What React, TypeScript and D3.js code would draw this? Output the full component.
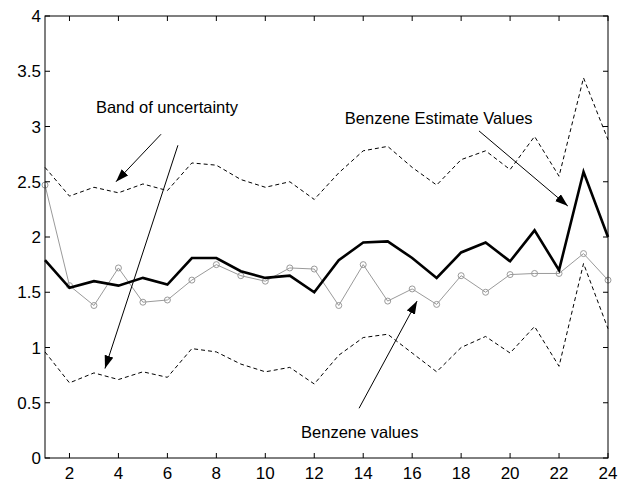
import React from "react";
import * as d3 from "d3";

// sample index 1..24
const hours = d3.range(1, 25);

const estimate = [1.79, 1.54, 1.60, 1.56, 1.63, 1.57, 1.81, 1.81, 1.69, 1.63, 1.65, 1.50,
  1.79, 1.95, 1.96, 1.81, 1.63, 1.86, 1.95, 1.78, 2.06, 1.70, 2.59, 2.00];
const measured = [2.47, 1.56, 1.38, 1.72, 1.41, 1.43, 1.61, 1.75, 1.65, 1.60, 1.72, 1.71,
  1.38, 1.75, 1.42, 1.53, 1.39, 1.65, 1.50, 1.66, 1.67, 1.67, 1.85, 1.61];
const upperBand = [2.63, 2.37, 2.45, 2.40, 2.48, 2.42, 2.67, 2.65, 2.52, 2.45, 2.50, 2.34,
  2.58, 2.78, 2.82, 2.63, 2.47, 2.70, 2.78, 2.61, 2.91, 2.55, 3.44, 2.88];
const lowerBand = [0.96, 0.68, 0.77, 0.71, 0.78, 0.73, 0.99, 0.96, 0.85, 0.78, 0.82, 0.67,
  0.93, 1.09, 1.12, 0.95, 0.78, 1.00, 1.10, 0.95, 1.19, 0.83, 1.76, 1.17];

const xTicks = [2, 4, 6, 8, 10, 12, 14, 16, 18, 20, 22, 24];
const yTicks = [0, 0.5, 1, 1.5, 2, 2.5, 3, 3.5, 4];

// annotations in data units
const labels = [
  { text: "Band of uncertainty", x: 3.08, y: 3.12 },
  { text: "Benzene Estimate Values", x: 13.25, y: 3.02 },
  { text: "Benzene values", x: 11.46, y: 0.18 },
];
const arrows = [
  { x1: 5.74, y1: 2.93, x2: 3.9, y2: 2.5 },
  { x1: 6.43, y1: 2.83, x2: 3.45, y2: 0.81 },
  { x1: 18.73, y1: 2.96, x2: 22.36, y2: 2.28 },
  { x1: 13.83, y1: 0.45, x2: 16.2, y2: 1.42 },
];

const W = 629, H = 483;
const left = 45, right = 608, top = 16, bottom = 458;
const font = "Liberation Sans, Arial, sans-serif";

export default function App() {
  const x = d3.scaleLinear().domain([1, 24]).range([left, right]);
  const y = d3.scaleLinear().domain([0, 4]).range([bottom, top]);
  const line = d3.line<number>().x((_, i) => x(hours[i])).y(d => y(d));

  return (
    <svg width={W} height={H} style={{ position: "absolute", left: 0, top: 0, background: "#fff" }}>
      <defs>
        <marker id="head" markerUnits="userSpaceOnUse" markerWidth="14" markerHeight="10"
          refX="13" refY="4.5" orient="auto">
          <path d="M0,0 L13,4.5 L0,9 Z" fill="#000" />
        </marker>
      </defs>
      <rect x={left} y={top} width={right - left} height={bottom - top} fill="#fff" />

      <path d={line(upperBand) || ""} fill="none" stroke="#000" strokeWidth={1} strokeDasharray="4,3" />
      <path d={line(lowerBand) || ""} fill="none" stroke="#000" strokeWidth={1} strokeDasharray="4,3" />
      <path d={line(measured) || ""} fill="none" stroke="#9a9a9a" strokeWidth={1} />
      {measured.map((d, i) => (
        <circle key={i} cx={x(hours[i])} cy={y(d)} r={3} fill="none" stroke="#9a9a9a" strokeWidth={1} />
      ))}
      <path d={line(estimate) || ""} fill="none" stroke="#000" strokeWidth={2.6} strokeLinejoin="miter" />

      {arrows.map((a, i) => (
        <line key={i} x1={x(a.x1)} y1={y(a.y1)} x2={x(a.x2)} y2={y(a.y2)}
          stroke="#000" strokeWidth={1} markerEnd="url(#head)" />
      ))}
      {labels.map((l, i) => (
        <text key={i} x={x(l.x)} y={y(l.y)} fontFamily={font} fontSize={16.5} fill="#000">{l.text}</text>
      ))}

      {/* frame */}
      <rect x={left} y={top} width={right - left} height={bottom - top} fill="none" stroke="#000" strokeWidth={1} />

      {/* ticks, inward on all four sides */}
      {xTicks.map(t => (
        <g key={"x" + t}>
          <line x1={x(t)} x2={x(t)} y1={bottom} y2={bottom - 5} stroke="#000" />
          <line x1={x(t)} x2={x(t)} y1={top} y2={top + 5} stroke="#000" />
          <text x={x(t)} y={bottom + 21} textAnchor="middle" fontFamily={font} fontSize={17}>{t}</text>
        </g>
      ))}
      {yTicks.map(t => (
        <g key={"y" + t}>
          <line x1={left} x2={left + 5} y1={y(t)} y2={y(t)} stroke="#000" />
          <line x1={right} x2={right - 5} y1={y(t)} y2={y(t)} stroke="#000" />
          <text x={left - 4} y={y(t) + 6} textAnchor="end" fontFamily={font} fontSize={17}>{t}</text>
        </g>
      ))}
    </svg>
  );
}
